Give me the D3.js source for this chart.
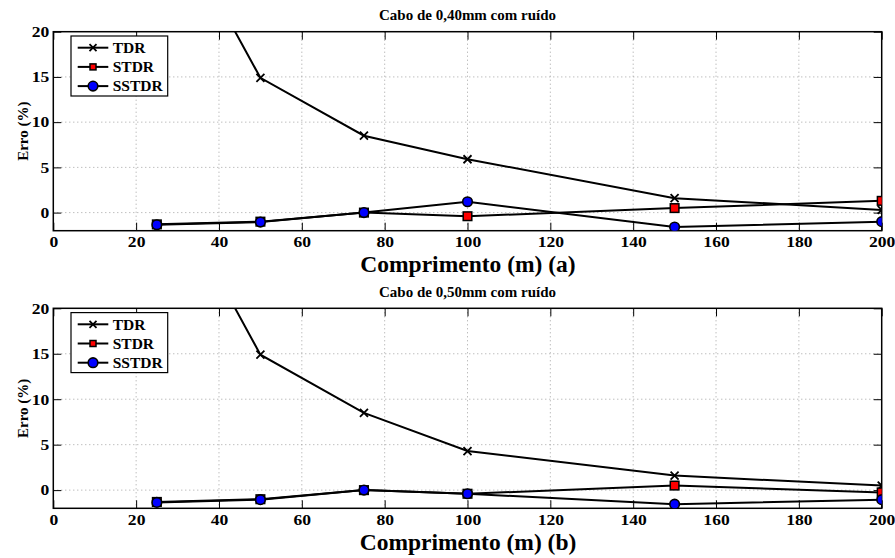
<!DOCTYPE html>
<html><head><meta charset="utf-8">
<script src="https://cdn.jsdelivr.net/npm/d3@7"></script>
<style>
body{margin:0;background:#fff;}
text{font-family:"Liberation Serif","Times New Roman",serif;font-weight:bold;}
</style></head>
<body><svg id="c" width="895" height="558"></svg>
<script>
const lengths = [25, 50, 75, 100, 150, 200];
const xTicks = [0, 20, 40, 60, 80, 100, 120, 140, 160, 180, 200];
const yTicks = [0, 5, 10, 15, 20];
const seriesNames = ["TDR", "STDR", "SSTDR"];
// Chart (a): Cabo de 0,40mm
const tdrA = [35.8, 14.9, 8.5, 5.9, 1.6, 0.3];
const stdrA = [-1.3, -1.0, 0.0, -0.4, 0.5, 1.3];
const sstdrA = [-1.35, -1.05, 0.0, 1.2, -1.6, -1.0];
// Chart (b): Cabo de 0,50mm
const tdrB = [35.8, 14.9, 8.5, 4.3, 1.6, 0.5];
const stdrB = [-1.3, -1.0, 0.0, -0.4, 0.5, -0.25];
const sstdrB = [-1.35, -1.05, 0.0, -0.4, -1.55, -1.05];
const titles = ["Cabo de 0,40mm com ruído", "Cabo de 0,50mm com ruído"];
const xLabels = ["Comprimento (m) (a)", "Comprimento (m) (b)"];

const svg = d3.select("#c");
const panels = [
  {top: 31.7, bottom: 230.7, title: titles[0], xl: xLabels[0], data: [tdrA, stdrA, sstdrA]},
  {top: 308.3, bottom: 508.3, title: titles[1], xl: xLabels[1], data: [tdrB, stdrB, sstdrB]}
];
const left = 53.3, right = 881.7;
const FONT = '"Liberation Serif","Times New Roman",serif';

panels.forEach((p, pi) => {
  const g = svg.append("g");
  const x = d3.scaleLinear().domain([0, 200]).range([left, right]);
  const y = d3.scaleLinear().domain([-2, 20]).range([p.bottom, p.top]);
  const clipId = "clip" + pi;
  svg.append("defs").append("clipPath").attr("id", clipId)
    .append("rect").attr("x", left).attr("y", p.top).attr("width", right - left).attr("height", p.bottom - p.top);

  // grid
  g.selectAll(".gx").data(xTicks.slice(1, -1)).join("line")
    .attr("x1", d => x(d)).attr("x2", d => x(d)).attr("y1", p.top).attr("y2", p.bottom)
    .attr("stroke", "#999").attr("stroke-width", 0.9).attr("stroke-dasharray", "1,3");
  g.selectAll(".gy").data(yTicks.slice(0, -1)).join("line")
    .attr("y1", d => y(d)).attr("y2", d => y(d)).attr("x1", left).attr("x2", right)
    .attr("stroke", "#999").attr("stroke-width", 0.9).attr("stroke-dasharray", "1,3");

  // axes with inward ticks
  const ax = (gen, tr) => g.append("g").attr("transform", tr).call(gen)
    .call(s => { s.select(".domain").remove(); s.selectAll("line").attr("stroke", "#000").attr("stroke-width", 1); });
  const styleT = s => s.selectAll("text").attr("font-size", 15).attr("fill", "#000")
    .style("font-family", FONT).style("font-weight", "bold");
  const xb = ax(d3.axisBottom(x).tickValues(xTicks).tickSize(-8).tickPadding(6).tickFormat(d3.format("d")), `translate(0,${p.bottom})`);
  styleT(xb);
  xb.selectAll("text").attr("transform", "scale(1.17,1)");
  ax(d3.axisTop(x).tickValues(xTicks).tickSize(-8).tickFormat(""), `translate(0,${p.top})`);
  const yl = ax(d3.axisLeft(y).tickValues(yTicks).tickSize(-8).tickPadding(4).tickFormat(d3.format("d")), `translate(${left},0)`);
  styleT(yl);
  yl.selectAll("text").attr("x", -3.4).attr("transform", "scale(1.17,1)");
  ax(d3.axisRight(y).tickValues(yTicks).tickSize(-8).tickFormat(""), `translate(${right},0)`);

  g.append("rect").attr("x", left).attr("y", p.top).attr("width", right - left).attr("height", p.bottom - p.top)
    .attr("fill", "none").attr("stroke", "#000").attr("stroke-width", 1.5);

  // series
  const plot = g.append("g").attr("clip-path", `url(#${clipId})`);
  const line = d3.line().x((d, i) => x(lengths[i])).y(d => y(d));
  const drawX = (sel, cx, cy, s) => sel.append("path")
    .attr("d", `M${cx-s},${cy-s}L${cx+s},${cy+s}M${cx-s},${cy+s}L${cx+s},${cy-s}`)
    .attr("stroke", "#000").attr("stroke-width", 1.8).attr("fill", "none");
  const drawSq = (sel, cx, cy, s) => sel.append("rect").attr("x", cx - s).attr("y", cy - s).attr("width", 2 * s).attr("height", 2 * s)
    .attr("fill", "#f00").attr("stroke", "#000").attr("stroke-width", 1.5);
  const drawCi = (sel, cx, cy, s) => sel.append("circle").attr("cx", cx).attr("cy", cy).attr("r", s)
    .attr("fill", "#00f").attr("stroke", "#000").attr("stroke-width", 1.6);
  const markers = [drawX, drawSq, drawCi];
  const dataSizes = [4, 4.3, 4.8];
  const legSizes = [3.5, 3, 4.8];

  p.data.forEach((vals, si) => {
    plot.append("path").datum(vals).attr("d", line).attr("fill", "none").attr("stroke", "#000").attr("stroke-width", 2);
    vals.forEach((v, i) => markers[si](plot, x(lengths[i]), y(v), dataSizes[si]));
  });

  // legend
  const lg = g.append("g");
  lg.append("rect").attr("x", 71).attr("y", p.top + 4.3).attr("width", 96.7).attr("height", 60)
    .attr("fill", "#fff").attr("stroke", "#000").attr("stroke-width", 1.2);
  seriesNames.forEach((n, i) => {
    const yy = p.top + 16 + i * 19.2;
    lg.append("line").attr("x1", 77.7).attr("x2", 108.3).attr("y1", yy).attr("y2", yy).attr("stroke", "#000").attr("stroke-width", 2);
    markers[i](lg, 93, yy, legSizes[i]);
    lg.append("text").attr("x", 112.7).attr("y", yy + 5.3).attr("font-size", 15.5).text(n);
  });

  // title and labels
  g.append("text").attr("x", (left + right) / 2).attr("y", p.top - 11.8).attr("text-anchor", "middle").attr("font-size", 15).text(p.title);
  g.append("text").attr("x", 468).attr("y", p.bottom + 41.5).attr("text-anchor", "middle").attr("font-size", 23.5).text(p.xl);
  g.append("text").attr("transform", `translate(28,${(p.top + p.bottom) / 2}) rotate(-90)`).attr("text-anchor", "middle").attr("font-size", 15).text("Erro (%)");
});
</script></body></html>
